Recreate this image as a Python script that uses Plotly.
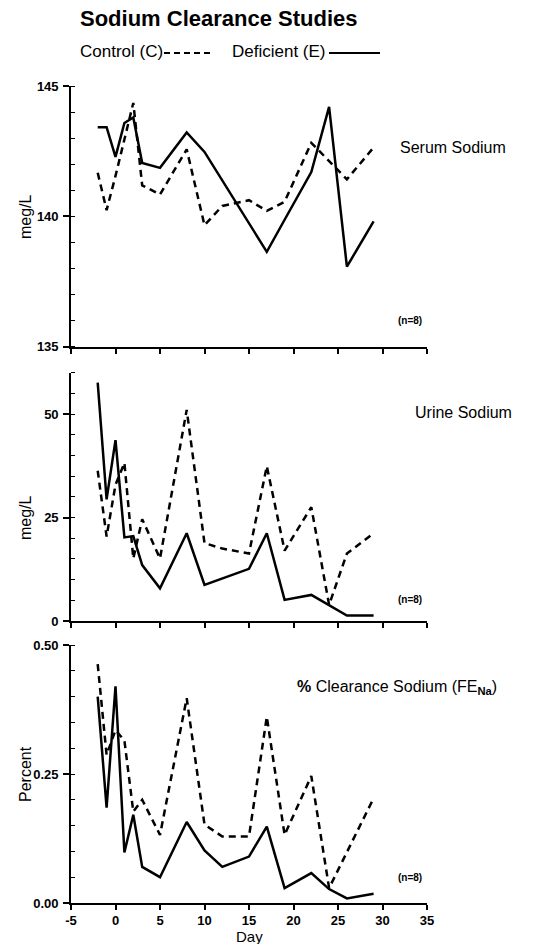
import plotly.graph_objects as go

# ---------------- data ----------------
days = [-2, -1, 0, 1, 2, 3, 5, 8, 10, 12, 15, 17, 19, 22, 24, 26, 29]

serum_control = [141.67, 140.24, 141.55, 142.98, 144.35, 141.19, 140.84, 142.57, 139.66,
                 140.40, 140.62, 140.21, 140.56, 142.82, 142.13, 141.42, 142.64]
serum_deficient = [143.42, 143.42, 142.28, 143.58, 143.79, 142.05, 141.86, 143.22, 142.47,
                   141.37, 139.74, 138.64, 139.87, 141.70, 144.20, 138.07, 139.81]

urine_control = [36.3, 20.4, 32.9, 38.2, 15.1, 24.6, 15.1, 51.0, 18.8,
                 17.5, 16.3, 37.4, 17.0, 27.5, 3.9, 16.3, 21.2]
urine_deficient = [57.6, 29.4, 43.7, 20.2, 20.5, 13.5, 7.9, 21.2, 8.7,
                   10.3, 12.6, 21.2, 5.1, 6.3, 3.9, 1.3, 1.3]

fe_control = [0.463, 0.287, 0.335, 0.315, 0.177, 0.200, 0.132, 0.397, 0.152,
              0.129, 0.129, 0.361, 0.132, 0.246, 0.029, 0.099, 0.203]
fe_deficient = [0.400, 0.185, 0.420, 0.098, 0.171, 0.070, 0.050, 0.157, 0.102,
                0.070, 0.090, 0.148, 0.029, 0.058, 0.027, 0.009, 0.018]

x_ticks = [-5, 0, 5, 10, 15, 20, 25, 30, 35]
x_ticklabels = ["-5", "0", "5", "10", "15", "20", "25", "30", "35"]
serum_ticks = [135, 140, 145]
serum_ticklabels = ["135", "140", "145"]
urine_ticks = [0, 25, 50]
urine_ticklabels = ["0", "25", "50"]
fe_ticks = [0, 0.25, 0.5]
fe_ticklabels = ["0.00", "0.25", "0.50"]

# ---------------- layout geometry ----------------
W, H = 550, 944
L, R, T, B = 71, 123, 86, 41
PW = W - L - R
PH = H - T - B
BOT = H - B


def xp(px):
    return (px - L) / PW


def yp(py):
    return (BOT - py) / PH


def clamp(v):
    return max(0.0, min(1.0, v))


def bold(labels):
    return ["<b>%s</b>" % s for s in labels]


FONT = "Liberation Sans, Arial, Helvetica, sans-serif"
BLACK = "#000000"
DASH = "7px,5px"

fig = go.Figure()

panels = [
    ("", "y", serum_control, serum_deficient),
    ("2", "y2", urine_control, urine_deficient),
    ("3", "y3", fe_control, fe_deficient),
]
for suf, yname, ctrl, defi in panels:
    fig.add_trace(go.Scatter(x=days, y=ctrl, mode="lines", xaxis="x" + suf, yaxis=yname,
                             line=dict(color=BLACK, width=2.5, dash=DASH),
                             name="Control (C)", showlegend=False, hoverinfo="skip"))
    fig.add_trace(go.Scatter(x=days, y=defi, mode="lines", xaxis="x" + suf, yaxis=yname,
                             line=dict(color=BLACK, width=2.5),
                             name="Deficient (E)", showlegend=False, hoverinfo="skip"))

xaxis_common = dict(range=[-5, 35], showline=True, linecolor=BLACK, linewidth=1.6,
                    ticks="outside", ticklen=5, tickwidth=1.6, tickcolor=BLACK,
                    tickvals=x_ticks, showgrid=False, zeroline=False, fixedrange=True,
                    tickfont=dict(family=FONT, size=13, color=BLACK))
yaxis_common = dict(showline=True, linecolor=BLACK, linewidth=1.6,
                    ticks="outside", ticklen=6, tickwidth=1.6, tickcolor=BLACK,
                    showgrid=False, zeroline=False, fixedrange=True,
                    tickfont=dict(family=FONT, size=13, color=BLACK),
                    ticklabelstandoff=2)

# panel pixel extents (top px, bottom px)
p1 = (86.0, 346.7)
p2 = (372.6, 621.0)
p3 = (645.0, 903.3)

fig.update_layout(
    width=W, height=H,
    margin=dict(l=L, r=R, t=T, b=B),
    paper_bgcolor="white", plot_bgcolor="white",
    font=dict(family=FONT, color=BLACK),
    xaxis=dict(**xaxis_common, anchor="y", showticklabels=False),
    xaxis2=dict(**xaxis_common, anchor="y2", showticklabels=False),
    xaxis3=dict(**xaxis_common, anchor="y3", ticktext=bold(x_ticklabels)),
    yaxis=dict(**yaxis_common, anchor="x", domain=[clamp(yp(p1[1])), clamp(yp(p1[0]))],
               range=[135, 145], tickvals=serum_ticks, ticktext=bold(serum_ticklabels),
               minor=dict(ticks="inside", dtick=1, ticklen=4, tickwidth=1.4, tickcolor=BLACK)),
    yaxis2=dict(**yaxis_common, anchor="x2", domain=[clamp(yp(p2[1])), clamp(yp(p2[0]))],
                range=[0, 60], tickvals=urine_ticks, ticktext=bold(urine_ticklabels),
                minor=dict(ticks="inside", dtick=5, ticklen=4, tickwidth=1.4, tickcolor=BLACK)),
    yaxis3=dict(**yaxis_common, anchor="x3", domain=[0, clamp(yp(p3[0]))],
                range=[0, 0.5], tickvals=fe_ticks, ticktext=bold(fe_ticklabels),
                minor=dict(ticks="inside", dtick=0.05, ticklen=4, tickwidth=1.4, tickcolor=BLACK)),
)

ann = []


def text(px, py, s, size, is_bold=False, xanchor="left", angle=0):
    ann.append(dict(xref="paper", yref="paper", x=xp(px), y=yp(py),
                    text=("<b>%s</b>" % s) if is_bold else s, showarrow=False,
                    xanchor=xanchor, yanchor="middle", textangle=angle,
                    font=dict(family=FONT, size=size, color=BLACK)))


text(78, 19, "Sodium Clearance Studies", 22, is_bold=True)
text(78, 52, "Control (C)", 17)
text(230, 52, "Deficient (E)", 17)
text(398, 147, "Serum Sodium", 16)
text(413, 413, "Urine Sodium", 16)
text(295, 687, "<b>%</b> Clearance Sodium (FE<sub><b>Na</b></sub>)", 16)
for py in (320, 599, 877):
    text(396, py, "(n=8)", 10, is_bold=True)
text(25, 216, "meg/L", 16, xanchor="center", angle=-90)
text(25, 517, "meg/L", 16, xanchor="center", angle=-90)
text(25, 774, "Percent", 16, xanchor="center", angle=-90)
text(249, 936, "Day", 15, xanchor="center")
fig.update_layout(annotations=ann)

fig.update_layout(shapes=[
    dict(type="line", xref="paper", yref="paper", x0=xp(164), x1=xp(210), y0=yp(53), y1=yp(53),
         line=dict(color=BLACK, width=1.8, dash="6px,4px")),
    dict(type="line", xref="paper", yref="paper", x0=xp(329), x1=xp(380), y0=yp(53), y1=yp(53),
         line=dict(color=BLACK, width=1.8)),
])

fig.write_html("out.html", config={"displayModeBar": False},
               post_script="document.body.style.margin='0';document.body.style.overflow='hidden';")
